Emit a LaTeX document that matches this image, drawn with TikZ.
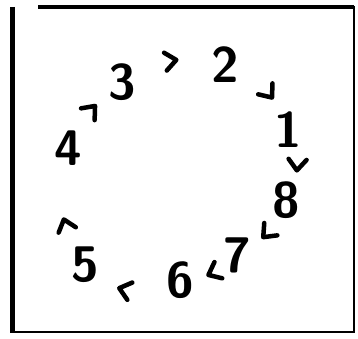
\documentclass[tikz,border=0pt]{standalone}
\usetikzlibrary{decorations.markings}
\begin{document}
\begin{tikzpicture}[
  x=1pt, y=1pt,
  num/.style={font=\sffamily\bfseries\fontsize{50}{50}\selectfont, inner sep=1pt},
  chev/.style={decoration={markings, mark=at position #1 with
    {\draw[line width=4.5pt, line cap=round, line join=round]
      (-7pt,9pt) -- (4pt,0pt) -- (-7pt,-9pt);}},
    postaction={decorate}},
  chev/.default=0.5
]
  \useasboundingbox (0,0) rectangle (358,338);

  % Marco
  \draw[line width=3.5pt] (38,331) -- (354,331);
  \draw[line width=2.5pt] (354,332) -- (354,6) -- (11,6);
  \draw[line width=5pt] (12,331) -- (12,5);

  % Numeros en circulo
  \node[num] (n3) at (122,256) {3};
  \node[num] (n2) at (225,273) {2};
  \node[num] (n1) at (288,208) {1};
  \node[num] (n8) at (286,138) {8};
  \node[num] (n7) at (237,83) {7};
  \node[num] (n6) at (180,58) {6};
  \node[num] (n5) at (85,73) {5};
  \node[num] (n4) at (68,190) {4};

  % Flechas (sentido horario)
  \path[chev] (n3) to[bend left=20] (n2);
  \path[chev=0.66] (n2) to[bend left=20] (n1);
  \path[chev=0.55] (n1) to[bend left=20] (n8);
  \path[chev] (n8) to[bend left=15] (n7);
  \path[chev=0.4] (n7) to[bend left=15] (n6);
  \path[chev=0.62] (n6) to[bend left=30] (n5);
  \path[chev=0.3] (n5) to[bend left=20] (n4);
  \path[chev=0.55] (n4) to[bend left=10] (n3);
\end{tikzpicture}
\end{document}
